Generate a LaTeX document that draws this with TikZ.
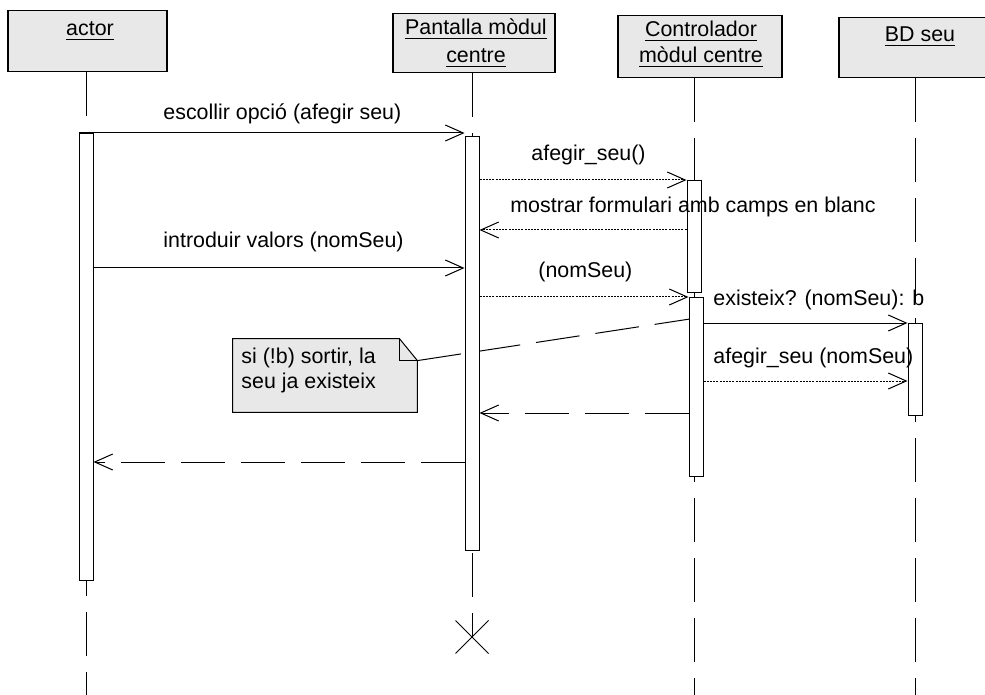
\documentclass[tikz,border=0pt]{standalone}
\usepackage{fontspec}
\setmainfont{Liberation Sans}
\usetikzlibrary{arrows.meta, positioning, calc, shapes.misc}

\begin{document}
\begin{tikzpicture}[
    x=0.5pt, y=-0.5pt,
    font=\fontsize{10.7}{14}\selectfont,
    obj/.style={draw, fill=black!9, line width=0.6pt, anchor=north, inner sep=0pt},
    title/.style={inner sep=0pt, anchor=base},
    bar/.style={draw, fill=white, line width=0.5pt, minimum width=7pt, inner sep=0pt, anchor=north},
    life/.style={line width=0.5pt, dash pattern=on 22pt off 8pt},
    call/.style={line width=0.5pt, -{Straight Barb[length=9pt, width=8pt]}},
    msg/.style={call, dash pattern=on 1pt off 0.6pt},
    ret/.style={call, dash pattern=on 22pt off 8pt},
    lbl/.style={inner sep=0pt, anchor=base west}
]
\useasboundingbox[fill=white] (0,0) rectangle (985,695);

% objects
\node[obj, minimum width=79.5pt, minimum height=30.5pt] (actor) at (87.5,10) {};
\node[title] (actorname) at (90,36) {\underline{actor}};
\node[obj, minimum width=81pt, minimum height=29.5pt] (pantalla) at (474,13) {};
\node[title] (pantallaname) at (476,35) {\underline{Pantalla mòdul}};
\node[title] (pantallaname2) at (476,63) {\underline{centre}};
\node[obj, minimum width=82pt, minimum height=31pt] (control) at (700,15) {};
\node[title] (controlname) at (701,37) {\underline{Controlador}};
\node[title] (controlname2) at (701,63) {\underline{mòdul centre}};
\node[obj, minimum width=76pt, minimum height=30pt] (bdseu) at (915,17) {};
\node[title] (bdseuname) at (920,42) {\underline{BD seu}};
\node[draw, cross out, line width=0.5pt, minimum size=16pt, inner sep=0pt] (destroy) at (472,637) {};

% lifelines
\draw[life] (actor.south -| 86,0) -- (86,695);
\draw[life] (pantalla.south -| destroy) -- (destroy.center);
\draw[life] (control.south -| 694,0) -- (694,695);
\draw[life] (bdseu.south) -- (bdseu.south |- 0,695);

% note
\node[minimum width=92pt, minimum height=36.5pt, inner sep=0pt] (cond) at (325,375.5) {};
\draw[fill=black!9, line width=0.5pt] (cond.south west) -- (cond.north west) -- ([xshift=-9pt]cond.north east)
    -- ([yshift=-11pt]cond.north east) -- (cond.south east) -- cycle;
\draw[line width=0.5pt] ([xshift=-9pt]cond.north east) -- ([xshift=-9pt, yshift=-11pt]cond.north east)
    -- ([yshift=-11pt]cond.north east);
\node[lbl] (condtxt1) at (241,363) {si (!b) sortir, la};
\node[lbl] (condtxt2) at (241,388) {seu ja existeix};
\coordinate (noteEnd) at (703,317);
\draw[life] ([yshift=-11pt]cond.north east) -- (noteEnd);

% activations
\node[bar, minimum height=223.5pt] (barA) at (86,133) {};
\node[bar, minimum height=207pt] (barP) at (472,136) {};
\node[bar, minimum height=56pt] (barC1) at (694,180) {};
\node[bar, minimum height=89.5pt] (barC2) at (696,297) {};
\node[bar, minimum height=46pt] (barB) at (915,323) {};

% messages
\draw[call] (barA.north west) -- (barA.north west -| barP.west);
\node[lbl] (m1) at (163,120) {escollir opció (afegir seu)};
\draw[msg] (barP.east |- barC1.north) -- (barC1.north west);
\node[lbl] (m2) at (531,161) {afegir\_seu()};
\draw[msg] (barC1.west |- 0,230) -- (barP.east |- 0,230);
\node[lbl] (m3) at (510,213) {mostrar formulari amb camps en blanc};
\draw[call] (barA.east |- 0,268) -- (barP.west |- 0,268);
\node[lbl] (m4) at (163,248) {introduir valors (nomSeu)};
\draw[msg] (barP.east |- barC2.north) -- (barC2.north west);
\node[lbl] (m5) at (538,278) {(nomSeu)};
\draw[call] (barC2.east |- barB.north) -- (barB.north west);
\node[lbl] (m6) at (713,306) {existeix? (nomSeu): b};
\draw[msg] (barC2.east |- 0,381) -- (barB.west |- 0,381);
\node[lbl] (m7) at (713,363) {afegir\_seu (nomSeu)};
\draw[ret] (barC2.west |- 0,413) -- (barP.east |- 0,413);
\draw[ret] (barP.west |- 0,462) -- (barA.east |- 0,462);
\end{tikzpicture}
\end{document}
